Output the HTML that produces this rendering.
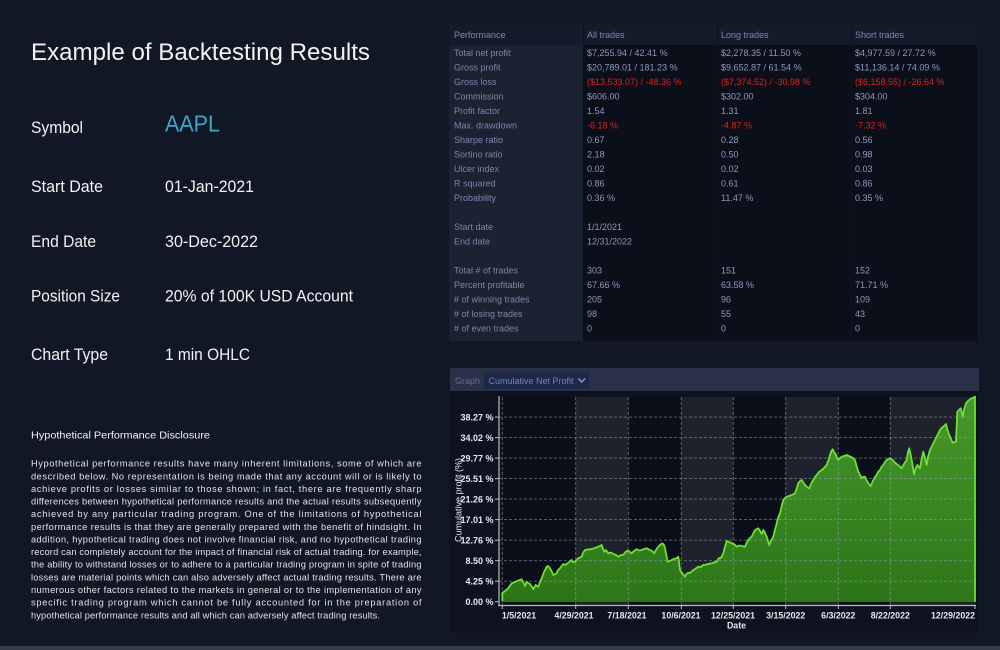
<!DOCTYPE html>
<html>
<head>
<meta charset="utf-8">
<style>
  html,body{margin:0;padding:0;background:#111725;}
  body{width:1000px;height:650px;overflow:hidden;}
  svg{display:block;}
  .L{font-family:"Liberation Sans",Arial,sans-serif;}
</style>
</head>
<body>
<svg width="1000" height="650" viewBox="0 0 1000 650" xmlns="http://www.w3.org/2000/svg" class="L">
  <defs>
    <linearGradient id="gf" x1="0" y1="0" x2="0" y2="1">
      <stop offset="0" stop-color="#4aa62a" stop-opacity="0.9"/>
      <stop offset="1" stop-color="#2f7f18" stop-opacity="0.9"/>
    </linearGradient>
  </defs>
  <rect x="0" y="0" width="1000" height="650" fill="#111725"/>
  <rect x="0" y="646" width="1000" height="4" fill="#363c48"/>

  <!-- LEFT TEXT -->
  <g font-family="Liberation Sans, sans-serif" fill="#f2f2f2">
    <text x="31" y="60" font-size="24" textLength="339" lengthAdjust="spacingAndGlyphs">Example of Backtesting Results</text>
    <text x="31" y="133" font-size="17" textLength="52" lengthAdjust="spacingAndGlyphs">Symbol</text>
    <text x="31" y="192" font-size="17" textLength="72" lengthAdjust="spacingAndGlyphs">Start Date</text>
    <text x="31" y="247" font-size="17" textLength="65" lengthAdjust="spacingAndGlyphs">End Date</text>
    <text x="31" y="301.5" font-size="17" textLength="89" lengthAdjust="spacingAndGlyphs">Position Size</text>
    <text x="31" y="360" font-size="17" textLength="77" lengthAdjust="spacingAndGlyphs">Chart Type</text>
    <text x="165" y="131.5" font-size="23" fill="#3aa8c6" textLength="55" lengthAdjust="spacingAndGlyphs">AAPL</text>
    <text x="165" y="192" font-size="17" textLength="89" lengthAdjust="spacingAndGlyphs">01-Jan-2021</text>
    <text x="165" y="247" font-size="17" textLength="93" lengthAdjust="spacingAndGlyphs">30-Dec-2022</text>
    <text x="165" y="301.5" font-size="17" textLength="188" lengthAdjust="spacingAndGlyphs">20% of 100K USD Account</text>
    <text x="165" y="360" font-size="17" textLength="85" lengthAdjust="spacingAndGlyphs">1 min OHLC</text>

    <text x="31" y="438.5" font-size="10.5" textLength="179" lengthAdjust="spacingAndGlyphs">Hypothetical Performance Disclosure</text>
  </g>
  <g font-family="Liberation Sans, sans-serif" fill="#e2e2e2" font-size="9.3">
    <text x="31" y="466.7" textLength="390.5" lengthAdjust="spacing">Hypothetical performance results have many inherent limitations, some of which are</text>
    <text x="31" y="479.3" textLength="390.5" lengthAdjust="spacing">described below. No representation is being made that any account will or is likely to</text>
    <text x="31" y="492.0" textLength="390.5" lengthAdjust="spacing">achieve profits or losses similar to those shown; in fact, there are frequently sharp</text>
    <text x="31" y="504.6" textLength="390.5" lengthAdjust="spacing">differences between hypothetical performance results and the actual results subsequently</text>
    <text x="31" y="517.2" textLength="390.5" lengthAdjust="spacing">achieved by any particular trading program. One of the limitations of hypothetical</text>
    <text x="31" y="529.9" textLength="390.5" lengthAdjust="spacing">performance results is that they are generally prepared with the benefit of hindsight. In</text>
    <text x="31" y="542.5" textLength="390.5" lengthAdjust="spacing">addition, hypothetical trading does not involve financial risk, and no hypothetical trading</text>
    <text x="31" y="555.1" textLength="390.5" lengthAdjust="spacing">record can completely account for the impact of financial risk of actual trading. for example,</text>
    <text x="31" y="567.7" textLength="390.5" lengthAdjust="spacing">the ability to withstand losses or to adhere to a particular trading program in spite of trading</text>
    <text x="31" y="580.4" textLength="390.5" lengthAdjust="spacing">losses are material points which can also adversely affect actual trading results. There are</text>
    <text x="31" y="593.0" textLength="390.5" lengthAdjust="spacing">numerous other factors related to the markets in general or to the implementation of any</text>
    <text x="31" y="605.6" textLength="390.5" lengthAdjust="spacing">specific trading program which cannot be fully accounted for in the preparation of</text>
    <text x="31" y="618.3" textLength="349" lengthAdjust="spacing">hypothetical performance results and all which can adversely affect trading results.</text>
  </g>

  <!-- TABLE -->
  <rect x="449" y="24" width="528" height="317" fill="#0b0f1a"/>
  <rect x="449" y="24" width="528" height="21" fill="#141b2a"/>
  <rect x="449" y="45" width="134" height="296" fill="#1b2231"/>
  <line x1="583.5" y1="24" x2="583.5" y2="45" stroke="#0d1220" stroke-width="1"/>
  <line x1="717.5" y1="24" x2="717.5" y2="45" stroke="#0d1220" stroke-width="1"/>
  <line x1="851.5" y1="24" x2="851.5" y2="45" stroke="#0d1220" stroke-width="1"/>
  <line x1="717.5" y1="45" x2="717.5" y2="341" stroke="#0e1320" stroke-width="1"/>
  <line x1="851.5" y1="45" x2="851.5" y2="341" stroke="#0e1320" stroke-width="1"/>

  <g font-size="9" fill="#7c89b0">
    <text x="454" y="38">Performance</text>
    <text x="587" y="38">All trades</text>
    <text x="721" y="38">Long trades</text>
    <text x="855" y="38">Short trades</text>
  </g>
  <g font-size="9" fill="#7a87ad">
    <text x="454" y="56">Total net profit</text>
    <text x="454" y="70.5">Gross profit</text>
    <text x="454" y="85">Gross loss</text>
    <text x="454" y="99.5">Commission</text>
    <text x="454" y="114">Profit factor</text>
    <text x="454" y="128.5">Max. drawdown</text>
    <text x="454" y="143">Sharpe ratio</text>
    <text x="454" y="157.5">Sortino ratio</text>
    <text x="454" y="172">Ulcer index</text>
    <text x="454" y="186.5">R squared</text>
    <text x="454" y="201">Probability</text>
    <text x="454" y="230">Start date</text>
    <text x="454" y="244.5">End date</text>
    <text x="454" y="273.5">Total # of trades</text>
    <text x="454" y="288">Percent profitable</text>
    <text x="454" y="302.5"># of winning trades</text>
    <text x="454" y="317"># of losing trades</text>
    <text x="454" y="331.5"># of even trades</text>
  </g>
  <g font-size="9" fill="#8d98bd">
    <text x="587" y="56">$7,255.94 / 42.41 %</text>
    <text x="587" y="70.5">$20,789.01 / 181.23 %</text>
    <text x="587" y="85" fill="#e0201c">($13,533.07) / -48.36 %</text>
    <text x="587" y="99.5">$606.00</text>
    <text x="587" y="114">1.54</text>
    <text x="587" y="128.5" fill="#e0201c">-6.18 %</text>
    <text x="587" y="143">0.67</text>
    <text x="587" y="157.5">2.18</text>
    <text x="587" y="172">0.02</text>
    <text x="587" y="186.5">0.86</text>
    <text x="587" y="201">0.36 %</text>
    <text x="587" y="230">1/1/2021</text>
    <text x="587" y="244.5">12/31/2022</text>
    <text x="587" y="273.5">303</text>
    <text x="587" y="288">67.66 %</text>
    <text x="587" y="302.5">205</text>
    <text x="587" y="317">98</text>
    <text x="587" y="331.5">0</text>

    <text x="721" y="56">$2,278.35 / 11.50 %</text>
    <text x="721" y="70.5">$9,652.87 / 61.54 %</text>
    <text x="721" y="85" fill="#e0201c">($7,374.52) / -30.98 %</text>
    <text x="721" y="99.5">$302.00</text>
    <text x="721" y="114">1.31</text>
    <text x="721" y="128.5" fill="#e0201c">-4.87 %</text>
    <text x="721" y="143">0.28</text>
    <text x="721" y="157.5">0.50</text>
    <text x="721" y="172">0.02</text>
    <text x="721" y="186.5">0.61</text>
    <text x="721" y="201">11.47 %</text>
    <text x="721" y="273.5">151</text>
    <text x="721" y="288">63.58 %</text>
    <text x="721" y="302.5">96</text>
    <text x="721" y="317">55</text>
    <text x="721" y="331.5">0</text>

    <text x="855" y="56">$4,977.59 / 27.72 %</text>
    <text x="855" y="70.5">$11,136.14 / 74.09 %</text>
    <text x="855" y="85" fill="#e0201c">($6,158.55) / -26.64 %</text>
    <text x="855" y="99.5">$304.00</text>
    <text x="855" y="114">1.81</text>
    <text x="855" y="128.5" fill="#e0201c">-7.32 %</text>
    <text x="855" y="143">0.56</text>
    <text x="855" y="157.5">0.98</text>
    <text x="855" y="172">0.03</text>
    <text x="855" y="186.5">0.86</text>
    <text x="855" y="201">0.35 %</text>
    <text x="855" y="273.5">152</text>
    <text x="855" y="288">71.71 %</text>
    <text x="855" y="302.5">109</text>
    <text x="855" y="317">43</text>
    <text x="855" y="331.5">0</text>
  </g>

  <!-- CHART PANEL -->
  <rect x="450" y="391" width="527" height="242" fill="#0d121e"/>
  <rect x="450" y="368" width="529" height="23" fill="#2a3148"/>
  <text x="455" y="384" font-size="9" fill="#5e6c99">Graph</text>
  <rect x="484" y="371.5" width="105" height="17.5" fill="#1f2846"/>
  <text x="488.5" y="384" font-size="9.3" fill="#7282bd" textLength="85" lengthAdjust="spacingAndGlyphs">Cumulative Net Profit</text>
  <polyline points="578.5,378.5 581.7,382 585,378.5" fill="none" stroke="#7c8cc6" stroke-width="1.6"/>

  <!-- bands -->
  <rect x="499" y="397" width="77" height="208" fill="#0b0f1a"/>
  <rect x="575.7" y="397" width="52.6" height="208" fill="#1e222c"/>
  <rect x="628.3" y="397" width="53" height="208" fill="#0b0f1a"/>
  <rect x="681.3" y="397" width="52" height="208" fill="#1e222c"/>
  <rect x="733.3" y="397" width="52.4" height="208" fill="#0b0f1a"/>
  <rect x="785.7" y="397" width="52.6" height="208" fill="#1e222c"/>
  <rect x="838.3" y="397" width="52" height="208" fill="#0b0f1a"/>
  <rect x="890.3" y="397" width="85" height="208" fill="#1e222c"/>

  <!-- area -->
  <polygon fill="url(#gf)" points="502,602 502.3,593 505,591 508.3,588.3 511.7,583.3 515,582 518,580.5 520,580 521.7,579.3 523,582 525,586 526.7,581.7 528,583 530,584 532,587 533.3,589.3 535.7,585 538.3,586.7 540,582 541.7,578.3 544,572 546.7,566.7 548,566 550,568.3 552,572 553.3,575 556.7,573.3 558,570 560,568.3 563.3,564 565,565 568.3,562.7 570,561 571.7,560 573,562 575,561.7 578.3,558.3 581.7,556.7 583,553 585,550 588,549.5 591.7,549 595,548 598.3,546.7 600,546 601.7,545 603,549 604.3,551.7 606,550 608.3,553.3 611,552.5 613.3,554 616,555 618.3,556.7 621,555 623.3,555 625.5,552 627.7,550.7 630,552 631.7,553.3 634,551 636.7,549.3 639,550.5 641.7,550 644,549 646.7,548.3 650,550 652,551 654.3,553.3 656,550 658.3,546.7 660,545 662.3,543.3 664,545 665,548.3 666.5,556 667.7,561.7 670,561 671.7,560 674,559 676.7,558.3 678.3,556.7 679,562 680,570 682,573 685,576.7 686.5,574 688.3,572.7 690,573 693.3,570 695,569 698.3,566.7 701,567 703,565 705,565 708,564 711.7,563.3 714,562.5 716.7,561.7 719,558 720,558.3 721.7,556.7 723.3,553.3 725,546.7 726.7,541 729,542 731.7,543.3 734,544 736.7,546.7 739,545.5 741.7,546 745,546.7 746.5,543 748.3,540 750,538 751.7,536.7 753,534 755,530 758.3,528.3 760,531 761.7,534 763.3,530 765,533 766.7,536.7 768,541 769.3,545 771,541 773.3,536.7 775,530 776.7,523.3 778,518 780,513.3 781.5,507 783.3,500 785,498 786.7,496.7 789,496 791.7,495 795,493.3 796.5,489 798.3,483.3 800,481 801.7,480 803,482 805,485 807,487 809.3,488.3 811,484 813.3,480 815,477 816.7,475 819,472 821.7,470 824,468 826.7,465 828.5,460 830,455 831.5,451 832.7,449.3 834,452 836,455 837,458 838.3,460 840,458 841.7,456.7 844,456 846.7,455 849,456 851.7,457.3 853,458 855,460 856.5,466 858.3,471.7 860,475 861.7,478.3 863,477 865,476.7 866.5,480 868.3,483.3 870.7,486 872,483 873.3,480 875,477 876.7,475 878,472 880,470 881.5,467 883.3,465 885,462 886.7,460 888,459 890,458.3 892.5,460 895,462.7 898,465 901.7,468.3 904,464 906.7,460 908,452 909.3,448.3 910.5,454 911.7,460 913,468 914,474.3 915.5,469 917.3,465 919,467 920,468.3 921.5,460 923.3,451.7 925,458 926.7,465 928,457 930,450 932.5,445 935,440 937.5,435 940,430 941.5,428 943.3,426.7 946,424 947.5,430 949.3,435 951,439 952.7,442.7 954.5,442 956,441.7 957.3,411.7 959,410 960.7,408.3 961.7,412 962.7,416.7 964,410 966,403.3 968,401 970,399.3 972.5,398 975,396.7 975,602"/>

  <!-- grid -->
  <g stroke="#9aa0aa" stroke-width="0.9" stroke-dasharray="3,2" opacity="0.6">
    <line x1="499" y1="417.1" x2="975" y2="417.1"/>
    <line x1="499" y1="437.6" x2="975" y2="437.6"/>
    <line x1="499" y1="458.1" x2="975" y2="458.1"/>
    <line x1="499" y1="478.6" x2="975" y2="478.6"/>
    <line x1="499" y1="499.1" x2="975" y2="499.1"/>
    <line x1="499" y1="519.6" x2="975" y2="519.6"/>
    <line x1="499" y1="540.2" x2="975" y2="540.2"/>
    <line x1="499" y1="560.7" x2="975" y2="560.7"/>
    <line x1="499" y1="581.2" x2="975" y2="581.2"/>
    <line x1="502.3" y1="397" x2="502.3" y2="605"/>
    <line x1="575.7" y1="397" x2="575.7" y2="605"/>
    <line x1="628.3" y1="397" x2="628.3" y2="605"/>
    <line x1="681.3" y1="397" x2="681.3" y2="605"/>
    <line x1="733.3" y1="397" x2="733.3" y2="605"/>
    <line x1="785.7" y1="397" x2="785.7" y2="605"/>
    <line x1="838.3" y1="397" x2="838.3" y2="605"/>
    <line x1="890.3" y1="397" x2="890.3" y2="605"/>
  </g>

  <!-- line -->
  <polyline fill="none" stroke="#6ee033" stroke-width="1.8" stroke-linejoin="round" points="502.3,601 502.3,593 505,591 508.3,588.3 511.7,583.3 515,582 518,580.5 520,580 521.7,579.3 523,582 525,586 526.7,581.7 528,583 530,584 532,587 533.3,589.3 535.7,585 538.3,586.7 540,582 541.7,578.3 544,572 546.7,566.7 548,566 550,568.3 552,572 553.3,575 556.7,573.3 558,570 560,568.3 563.3,564 565,565 568.3,562.7 570,561 571.7,560 573,562 575,561.7 578.3,558.3 581.7,556.7 583,553 585,550 588,549.5 591.7,549 595,548 598.3,546.7 600,546 601.7,545 603,549 604.3,551.7 606,550 608.3,553.3 611,552.5 613.3,554 616,555 618.3,556.7 621,555 623.3,555 625.5,552 627.7,550.7 630,552 631.7,553.3 634,551 636.7,549.3 639,550.5 641.7,550 644,549 646.7,548.3 650,550 652,551 654.3,553.3 656,550 658.3,546.7 660,545 662.3,543.3 664,545 665,548.3 666.5,556 667.7,561.7 670,561 671.7,560 674,559 676.7,558.3 678.3,556.7 679,562 680,570 682,573 685,576.7 686.5,574 688.3,572.7 690,573 693.3,570 695,569 698.3,566.7 701,567 703,565 705,565 708,564 711.7,563.3 714,562.5 716.7,561.7 719,558 720,558.3 721.7,556.7 723.3,553.3 725,546.7 726.7,541 729,542 731.7,543.3 734,544 736.7,546.7 739,545.5 741.7,546 745,546.7 746.5,543 748.3,540 750,538 751.7,536.7 753,534 755,530 758.3,528.3 760,531 761.7,534 763.3,530 765,533 766.7,536.7 768,541 769.3,545 771,541 773.3,536.7 775,530 776.7,523.3 778,518 780,513.3 781.5,507 783.3,500 785,498 786.7,496.7 789,496 791.7,495 795,493.3 796.5,489 798.3,483.3 800,481 801.7,480 803,482 805,485 807,487 809.3,488.3 811,484 813.3,480 815,477 816.7,475 819,472 821.7,470 824,468 826.7,465 828.5,460 830,455 831.5,451 832.7,449.3 834,452 836,455 837,458 838.3,460 840,458 841.7,456.7 844,456 846.7,455 849,456 851.7,457.3 853,458 855,460 856.5,466 858.3,471.7 860,475 861.7,478.3 863,477 865,476.7 866.5,480 868.3,483.3 870.7,486 872,483 873.3,480 875,477 876.7,475 878,472 880,470 881.5,467 883.3,465 885,462 886.7,460 888,459 890,458.3 892.5,460 895,462.7 898,465 901.7,468.3 904,464 906.7,460 908,452 909.3,448.3 910.5,454 911.7,460 913,468 914,474.3 915.5,469 917.3,465 919,467 920,468.3 921.5,460 923.3,451.7 925,458 926.7,465 928,457 930,450 932.5,445 935,440 937.5,435 940,430 941.5,428 943.3,426.7 946,424 947.5,430 949.3,435 951,439 952.7,442.7 954.5,442 956,441.7 957.3,411.7 959,410 960.7,408.3 961.7,412 962.7,416.7 964,410 966,403.3 968,401 970,399.3 972.5,398 975,396.7 975,602"/>

  <!-- axes -->
  <line x1="499" y1="396" x2="499" y2="606" stroke="#b8bcc4" stroke-width="1.2"/>
  <line x1="498" y1="605.5" x2="976" y2="605.5" stroke="#b8bcc4" stroke-width="1.2"/>
  <g stroke="#b8bcc4" stroke-width="1">
    <line x1="495" y1="417.1" x2="499" y2="417.1"/>
    <line x1="495" y1="437.6" x2="499" y2="437.6"/>
    <line x1="495" y1="458.1" x2="499" y2="458.1"/>
    <line x1="495" y1="478.6" x2="499" y2="478.6"/>
    <line x1="495" y1="499.1" x2="499" y2="499.1"/>
    <line x1="495" y1="519.6" x2="499" y2="519.6"/>
    <line x1="495" y1="540.2" x2="499" y2="540.2"/>
    <line x1="495" y1="560.7" x2="499" y2="560.7"/>
    <line x1="495" y1="581.2" x2="499" y2="581.2"/>
    <line x1="495" y1="601.7" x2="499" y2="601.7"/>
    <line x1="502.3" y1="605" x2="502.3" y2="609"/>
    <line x1="575.7" y1="605" x2="575.7" y2="609"/>
    <line x1="628.3" y1="605" x2="628.3" y2="609"/>
    <line x1="681.3" y1="605" x2="681.3" y2="609"/>
    <line x1="733.3" y1="605" x2="733.3" y2="609"/>
    <line x1="785.7" y1="605" x2="785.7" y2="609"/>
    <line x1="838.3" y1="605" x2="838.3" y2="609"/>
    <line x1="890.3" y1="605" x2="890.3" y2="609"/>
    <line x1="975" y1="605" x2="975" y2="609"/>
  </g>
  <g font-size="9" font-weight="bold" fill="#e4e8ee" text-anchor="end">
    <text x="493.5" y="420.3">38.27 %</text>
    <text x="493.5" y="440.8">34.02 %</text>
    <text x="493.5" y="461.3">29.77 %</text>
    <text x="493.5" y="481.8">25.51 %</text>
    <text x="493.5" y="502.3">21.26 %</text>
    <text x="493.5" y="522.8">17.01 %</text>
    <text x="493.5" y="543.4">12.76 %</text>
    <text x="493.5" y="563.9">8.50 %</text>
    <text x="493.5" y="584.4">4.25 %</text>
    <text x="493.5" y="604.9">0.00 %</text>
  </g>
  <text transform="translate(461.5,500) rotate(-90)" font-size="9" fill="#e4e8ee" text-anchor="middle">Cumulative profit (%)</text>
  <g font-size="8.8" font-weight="bold" fill="#e4e8ee" text-anchor="middle">
    <text x="519" y="618.5">1/5/2021</text>
    <text x="574" y="618.5">4/29/2021</text>
    <text x="627" y="618.5">7/18/2021</text>
    <text x="681" y="618.5">10/6/2021</text>
    <text x="733" y="618.5">12/25/2021</text>
    <text x="785.7" y="618.5">3/15/2022</text>
    <text x="838.3" y="618.5">6/3/2022</text>
    <text x="890.3" y="618.5">8/22/2022</text>
    <text x="953" y="618.5">12/29/2022</text>
  </g>
  <text x="736.5" y="628.5" font-size="8.8" font-weight="bold" fill="#e4e8ee" text-anchor="middle">Date</text>
</svg>
</body>
</html>
